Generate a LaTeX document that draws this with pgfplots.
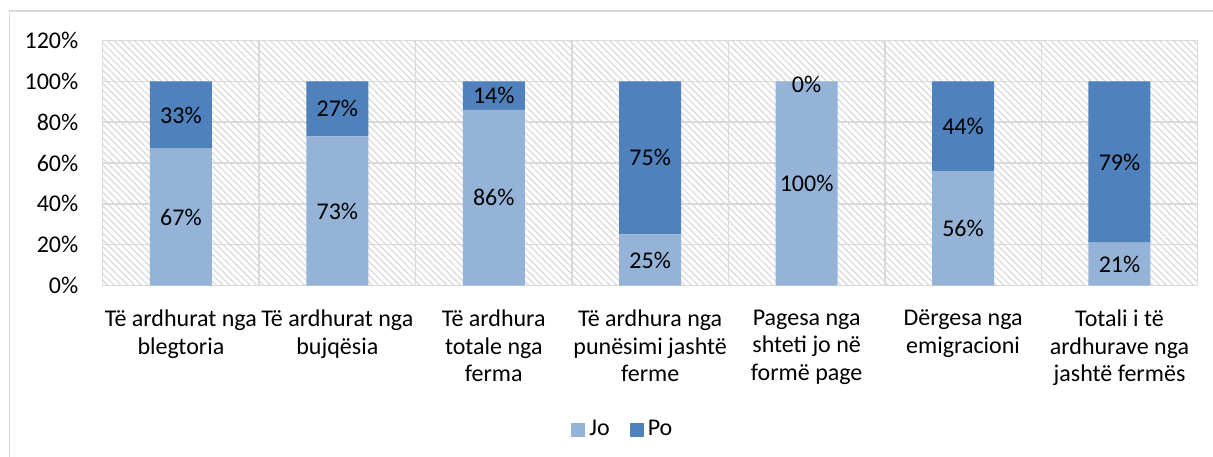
\documentclass[border=0pt]{standalone}
\usepackage{pgfplots}
\pgfplotsset{compat=1.18}
\usepackage{fontspec}
\setmainfont{Carlito}
\usetikzlibrary{patterns.meta}
\definecolor{jo}{HTML}{95B3D7}
\definecolor{po}{HTML}{4F81BD}
\definecolor{gridc}{HTML}{D9D9D9}
\newcommand\lblfont{\fontsize{12}{13.75}\selectfont}
\begin{document}
\lblfont
\begin{tikzpicture}[x=1pt,y=1pt]
\useasboundingbox (0,0) rectangle (606.5,228);
\draw[gridc, line width=0.75pt] (4.75,-2) -- (4.75,222.5) -- (610,222.5);
\begin{axis}[
  at={(51.35pt,85.25pt)}, anchor=south west,
  scale only axis, width=547.5pt, height=122.5pt,
  ybar stacked, bar width=31pt,
  xmin=-0.5, xmax=6.5, ymin=0, ymax=120,
  xtick={0,...,6},
  xticklabels={{Të ardhurat nga\\blegtoria},{Të ardhurat nga\\bujqësia},{Të ardhura\\totale nga\\ferma},{Të ardhura nga\\punësimi jashtë\\ferme},{Pagesa nga\\shteti jo në\\formë page},{Dërgesa nga\\emigracioni},{Totali i të\\ardhurave nga\\jashtë fermës}},
  xticklabel style={align=center, anchor=north, yshift=-8pt, font=\lblfont},
  ytick={0,20,...,120},
  yticklabels={0\%,20\%,40\%,60\%,80\%,100\%,120\%},
  yticklabel style={xshift=-8pt, font=\lblfont},
  minor x tick num=1,
  xmajorgrids=false, xminorgrids=true, ymajorgrids=true,
  major tick length=0pt, minor tick length=0pt,
  grid style={gridc, line width=0.75pt},
  minor grid style={gridc, line width=0.75pt},
  axis line style={gridc, line width=0.75pt},
  axis background/.style={pattern={Lines[angle=-45,distance=2.4pt,line width=0.6pt]}, pattern color=black!15},
  legend style={at={(0.476,-0.59)}, anchor=center, draw=none, fill=none, legend columns=2,
    font=\lblfont,
    /tikz/every even column/.append style={column sep=8pt}},
  legend image code/.code={\fill[#1] (0pt,-3.5pt) rectangle (7pt,3.5pt);},
]
\addplot[fill=jo, draw=none] coordinates {(0,67) (1,73) (2,86) (3,25) (4,100) (5,56) (6,21)};
\addplot[fill=po, draw=none] coordinates {(0,33) (1,27) (2,14) (3,75) (4,0) (5,44) (6,79)};
\legend{Jo,Po}
\end{axis}
\begin{axis}[
  at={(51.35pt,85.25pt)}, anchor=south west,
  scale only axis, width=547.5pt, height=122.5pt,
  xmin=-0.5, xmax=6.5, ymin=0, ymax=120,
  hide axis, clip=false,
]
\addplot[draw=none, mark=none, nodes near coords={\pgfplotspointmeta}, point meta=explicit symbolic,
  every node near coord/.append style={anchor=center, text=black, font=\lblfont}]
  coordinates {(0,33.5) [67\%] (1,36.5) [73\%] (2,43) [86\%] (3,12.5) [25\%] (4,50) [100\%] (5,28) [56\%] (6,10.5) [21\%]};
\addplot[draw=none, mark=none, nodes near coords={\pgfplotspointmeta}, point meta=explicit symbolic,
  every node near coord/.append style={anchor=center, text=black, font=\lblfont}]
  coordinates {(0,83.5) [33\%] (1,86.5) [27\%] (2,93) [14\%] (3,62.5) [75\%] (4,98.5) [0\%] (5,78) [44\%] (6,60.5) [79\%]};
\end{axis}
\end{tikzpicture}
\end{document}
